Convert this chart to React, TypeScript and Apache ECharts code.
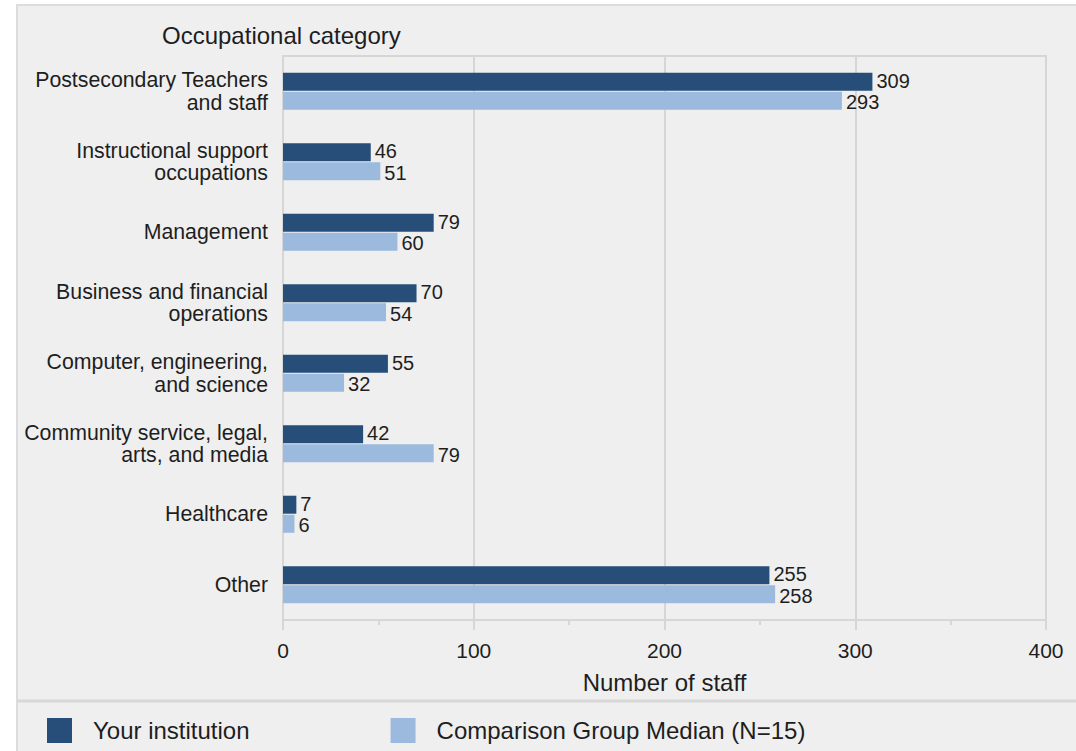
import React, { useEffect, useRef } from "react";
import * as echarts from "echarts";

const categories = [
  "Postsecondary Teachers\nand staff",
  "Instructional support\noccupations",
  "Management",
  "Business and financial\noperations",
  "Computer, engineering,\nand science",
  "Community service, legal,\narts, and media",
  "Healthcare",
  "Other",
];
const yourInstitution = [309, 46, 79, 70, 55, 42, 7, 255];
const comparisonMedian = [293, 51, 60, 54, 32, 79, 6, 258];
const seriesNames = ["Your institution", "Comparison Group Median (N=15)"];
const xTicks = { min: 0, max: 400, interval: 100 };

const DARK = "#264e79";
const LIGHT = "#9bbade";
const GRID = "#d6d6d6";
const TEXT = "#1e1e1e";
const FONT = "'Liberation Sans', Arial, sans-serif";

export default function App() {
  const ref = useRef<HTMLDivElement>(null);
  useEffect(() => {
    if (!ref.current) return;
    const chart = echarts.init(ref.current, undefined, { renderer: "svg" });
    const labelStyle = (dy: number) => ({
      show: true,
      position: "right",
      distance: 4,
      offset: [0, dy],
      fontSize: 20,
      lineHeight: 17,
      color: TEXT,
      fontFamily: FONT,
    });
    chart.setOption({
      animation: false,
      backgroundColor: "#ffffff",
      textStyle: { fontFamily: FONT },
      graphic: [
        {
          type: "rect",
          z: -10,
          shape: { x: 17, y: 5, width: 1070, height: 760 },
          style: { fill: "#efefef", stroke: "#dcdcdc", lineWidth: 2 },
          silent: true,
        },
        {
          type: "line",
          z: -9,
          shape: { x1: 17, y1: 701, x2: 1076, y2: 701 },
          style: { stroke: "#d8d8d8", lineWidth: 3 },
          silent: true,
        },
      ],
      title: {
        text: "Occupational category",
        left: 157,
        top: 18,
        textStyle: { fontSize: 24, fontWeight: "normal", color: TEXT, fontFamily: FONT },
      },
      legend: {
        left: 42,
        top: 713,
        icon: "rect",
        itemWidth: 25,
        itemHeight: 25,
        itemGap: 141,
        data: seriesNames,
        textStyle: { fontSize: 24, color: TEXT, fontFamily: FONT, padding: [0, 0, 0, 16] },
      },
      grid: {
        left: 283,
        right: 30,
        top: 56,
        bottom: 131,
        show: true,
        borderColor: GRID,
        borderWidth: 2,
        backgroundColor: "transparent",
      },
      xAxis: {
        type: "value",
        min: xTicks.min,
        max: xTicks.max,
        interval: xTicks.interval,
        name: "Number of staff",
        nameLocation: "middle",
        nameGap: 50,
        nameTextStyle: { fontSize: 24, color: TEXT, fontFamily: FONT },
        axisLine: { show: true, lineStyle: { color: GRID, width: 2 } },
        axisTick: { show: true, length: 10, lineStyle: { color: GRID, width: 2 } },
        minorTick: { show: true, splitNumber: 2, length: 5, lineStyle: { color: GRID, width: 2 } },
        splitLine: { show: true, lineStyle: { color: GRID, width: 2 } },
        axisLabel: { fontSize: 21, color: TEXT, margin: 20, fontFamily: FONT },
      },
      yAxis: {
        type: "category",
        data: categories,
        inverse: true,
        axisLine: { show: true, lineStyle: { color: GRID, width: 2 } },
        axisTick: { show: false },
        axisLabel: {
          fontSize: 21.3,
          color: TEXT,
          margin: 15,
          lineHeight: 22.5,
          padding: [5, 0, 0, 0],
          align: "right",
          fontFamily: FONT,
        },
      },
      series: [
        {
          name: seriesNames[0],
          type: "bar",
          data: yourInstitution,
          barWidth: 18,
          barGap: "6%",
          itemStyle: { color: DARK },
          label: labelStyle(-1),
        },
        {
          name: seriesNames[1],
          type: "bar",
          data: comparisonMedian,
          barWidth: 18,
          barGap: "6%",
          itemStyle: { color: LIGHT },
          label: labelStyle(1.5),
        },
      ],
    });
    return () => chart.dispose();
  }, []);
  return (
    <div
      ref={ref}
      style={{ position: "fixed", left: 0, top: 0, width: 1076, height: 751 }}
    />
  );
}
